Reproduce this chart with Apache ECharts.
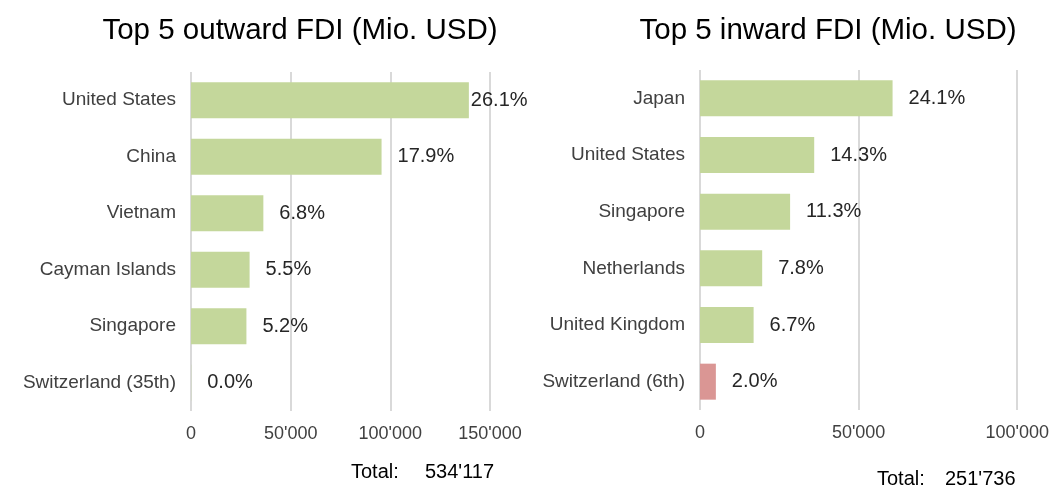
<!DOCTYPE html>
<html>
<head>
<meta charset="utf-8">
<script src="https://cdn.jsdelivr.net/npm/echarts@6/dist/echarts.min.js"></script>
<style>
  html, body { margin: 0; padding: 0; background: #fff; }
  #main { width: 1052px; height: 487px; }
</style>
</head>
<body>
<div id="main"></div>
<script>
// outward FDI (Mio. USD)
var outCountries = ['United States', 'China', 'Vietnam', 'Cayman Islands', 'Singapore', 'Switzerland (35th)'];
var outValues = [139400, 95600, 36300, 29400, 27800, 100];
var outShares = ['26.1%', '17.9%', '6.8%', '5.5%', '5.2%', '0.0%'];
var outTotal = "534'117";

// inward FDI (Mio. USD)
var inCountries = ['Japan', 'United States', 'Singapore', 'Netherlands', 'United Kingdom', 'Switzerland (6th)'];
var inValues = [60700, 36000, 28400, 19600, 16900, 5000];
var inShares = ['24.1%', '14.3%', '11.3%', '7.8%', '6.7%', '2.0%'];
var inTotal = "251'736";

var FONT = "'Liberation Sans', Arial, sans-serif";
var GREEN = '#c4d79b';
var RED = '#da9694';

function fmt(v) {
  return String(v).replace(/\B(?=(\d{3})+(?!\d))/g, "'");
}

function barData(values, shares, highlight) {
  return values.map(function (v, i) {
    var item = { value: v, share: shares[i] };
    if (highlight && i === values.length - 1) item.itemStyle = { color: RED };
    return item;
  });
}

var outData = barData(outValues, outShares, false);
outData[0].label = { distance: 2 }; // excel squeezed this one against the bar
var inData = barData(inValues, inShares, true);

function xAx(idx, max) {
  return {
    type: 'value', gridIndex: idx, min: 0, max: max, interval: 50000,
    axisLine: { show: false }, axisTick: { show: false },
    splitLine: { show: true, lineStyle: { color: '#d9d9d9', width: 2 } },
    axisLabel: { fontFamily: FONT, fontSize: 18, color: '#404040', margin: 14, formatter: fmt }
  };
}

function yAx(idx, cats) {
  return {
    type: 'category', gridIndex: idx, data: cats, inverse: true,
    axisLine: { show: false }, axisTick: { show: false },
    axisLabel: { fontFamily: FONT, fontSize: 19, color: '#404040', margin: 15 }
  };
}

function barSeries(idx, data) {
  return {
    type: 'bar', xAxisIndex: idx, yAxisIndex: idx, data: data,
    barWidth: 36, itemStyle: { color: GREEN },
    label: {
      show: true, position: 'right', distance: 16,
      fontFamily: FONT, fontSize: 20, color: '#262626',
      formatter: function (p) { return p.data.share; }
    },
    silent: true, animation: false
  };
}

function txt(x, y, s) {
  return { type: 'text', x: x, y: y,
    style: { text: s, fontFamily: FONT, fontSize: 20, fill: '#000', verticalAlign: 'middle' } };
}

var myChart = echarts.init(document.getElementById('main'));

myChart.setOption({
  backgroundColor: '#fff',
  animation: false,
  title: [
    { text: 'Top 5 outward FDI (Mio. USD)', left: 295, top: 11, textAlign: 'center',
      textStyle: { fontFamily: FONT, fontSize: 29.5, fontWeight: 'normal', color: '#000' } },
    { text: 'Top 5 inward FDI (Mio. USD)', left: 823, top: 11, textAlign: 'center',
      textStyle: { fontFamily: FONT, fontSize: 29.5, fontWeight: 'normal', color: '#000' } }
  ],
  grid: [
    { left: 191, top: 72, width: 299, height: 339 },
    { left: 700, top: 70, width: 319, height: 340 }
  ],
  xAxis: [xAx(0, 150000), xAx(1, 100000)],
  yAxis: [yAx(0, outCountries), yAx(1, inCountries)],
  series: [barSeries(0, outData), barSeries(1, inData)],
  graphic: [
    txt(351, 472, 'Total:'), txt(425, 472, outTotal),
    txt(877, 479, 'Total:'), txt(945, 479, inTotal)
  ]
});
</script>
</body>
</html>
